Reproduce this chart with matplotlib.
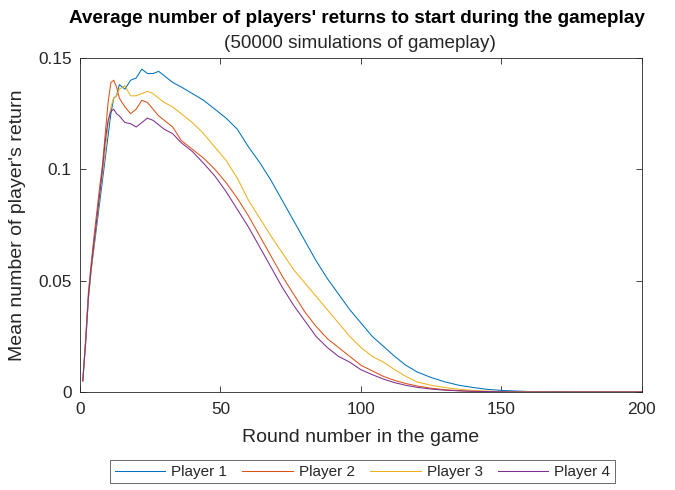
import matplotlib
matplotlib.use('Agg')
import matplotlib.pyplot as plt

plt.rcParams['font.family'] = ['Liberation Sans', 'DejaVu Sans']

rounds = [1, 2, 3, 4, 5, 6, 7, 8, 9, 10, 11, 12, 13, 14, 16, 18, 20, 22, 24, 26, 28, 30,
          33, 36, 40, 44, 48, 52, 56, 60, 64, 68, 72, 76, 80, 84, 88, 92, 96, 100,
          104, 108, 112, 116, 120, 125, 130, 135, 140, 145, 150, 160, 170, 180, 190, 200]

player1 = [0.005, 0.022, 0.042, 0.055, 0.065, 0.075, 0.085, 0.095, 0.105, 0.115, 0.125, 0.132,
           0.133, 0.138, 0.136, 0.140, 0.141, 0.145, 0.143, 0.143, 0.144, 0.142,
           0.139, 0.137, 0.134, 0.131, 0.127, 0.123, 0.118, 0.110, 0.103, 0.095, 0.086, 0.077,
           0.068, 0.059, 0.051, 0.044, 0.037, 0.031, 0.025, 0.0205, 0.016, 0.012, 0.009,
           0.0065, 0.0045, 0.003, 0.002, 0.0012, 0.0007, 0.0002, 0.0001, 0.0, 0.0, 0.0]
player2 = [0.005, 0.024, 0.045, 0.058, 0.070, 0.081, 0.092, 0.102, 0.116, 0.130, 0.139, 0.140,
           0.137, 0.132, 0.128, 0.125, 0.127, 0.131, 0.130, 0.127, 0.124, 0.122,
           0.119, 0.113, 0.109, 0.105, 0.100, 0.094, 0.087, 0.079, 0.070, 0.061, 0.052, 0.044,
           0.036, 0.0295, 0.024, 0.020, 0.016, 0.012, 0.0095, 0.007, 0.0052, 0.0038, 0.0027,
           0.0017, 0.001, 0.0006, 0.0003, 0.0002, 0.0001, 0.0, 0.0, 0.0, 0.0, 0.0]
player3 = [0.005, 0.022, 0.042, 0.055, 0.066, 0.077, 0.088, 0.098, 0.108, 0.120, 0.128, 0.132,
           0.133, 0.136, 0.1375, 0.133, 0.133, 0.134, 0.135, 0.134, 0.132, 0.130,
           0.128, 0.125, 0.121, 0.116, 0.110, 0.104, 0.096, 0.086, 0.078, 0.070, 0.0625, 0.055,
           0.049, 0.043, 0.037, 0.031, 0.025, 0.020, 0.016, 0.0134, 0.010, 0.007, 0.0045,
           0.003, 0.002, 0.0012, 0.0007, 0.0004, 0.0002, 0.0001, 0.0, 0.0, 0.0, 0.0]
player4 = [0.005, 0.022, 0.043, 0.056, 0.067, 0.078, 0.089, 0.100, 0.113, 0.122, 0.126, 0.127,
           0.125, 0.124, 0.121, 0.1205, 0.119, 0.121, 0.123, 0.122, 0.120, 0.118,
           0.116, 0.112, 0.108, 0.1027, 0.097, 0.090, 0.082, 0.074, 0.065, 0.056, 0.047, 0.039,
           0.032, 0.025, 0.020, 0.016, 0.0134, 0.010, 0.0078, 0.0058, 0.0042, 0.003, 0.0021,
           0.0013, 0.0008, 0.0005, 0.0003, 0.0002, 0.0001, 0.0, 0.0, 0.0, 0.0, 0.0]

labels = ['Player 1', 'Player 2', 'Player 3', 'Player 4']
colors = ['#0072BD', '#D95319', '#EDB120', '#7E2F8E']
AX = '#262626'

fig = plt.figure(figsize=(6.75, 4.9), dpi=100)
ax = fig.add_axes([0.1185, 0.2, 0.8325, 0.6817])

for vals, lab, c in zip([player1, player2, player3, player4], labels, colors):
    ax.plot(rounds, vals, color=c, lw=0.75, label=lab)

ax.set_xlim(0, 200)
ax.set_ylim(0, 0.15)
ax.set_xticks([0, 50, 100, 150, 200])
ax.set_yticks([0, 0.05, 0.1, 0.15])
ax.set_yticklabels(['0', '0.05', '0.1', '0.15'])
ax.tick_params(direction='in', length=4, width=0.6, colors=AX, labelsize=12.4,
               top=True, right=True, labelcolor=AX)
ax.tick_params(axis='x', pad=7)
ax.tick_params(axis='y', pad=6)
for s in ax.spines.values():
    s.set_color(AX)
    s.set_linewidth(0.6)

ax.set_xlabel('Round number in the game', fontsize=14, color=AX, labelpad=9)
ax.set_ylabel("Mean number of player's return", fontsize=14, color=AX, labelpad=9)

fig.text(0.529, 0.962, "Average number of players' returns to start during the gameplay",
         ha='center', va='center', fontsize=13.6, fontweight='bold', color='black')
fig.text(0.533, 0.912, '(50000 simulations of gameplay)', ha='center', va='center',
         fontsize=13.6, color=AX)

leg = fig.legend(loc='center', bbox_to_anchor=(0.537, 0.037), ncol=4,
                 fontsize=11, frameon=True, fancybox=False, edgecolor=AX,
                 handlelength=3.3, columnspacing=1.0, handletextpad=0.4,
                 borderpad=0.3, borderaxespad=0)
leg.get_frame().set_linewidth(0.6)
for t in leg.get_texts():
    t.set_color(AX)

fig.savefig('out.png', dpi=100, facecolor='white')
